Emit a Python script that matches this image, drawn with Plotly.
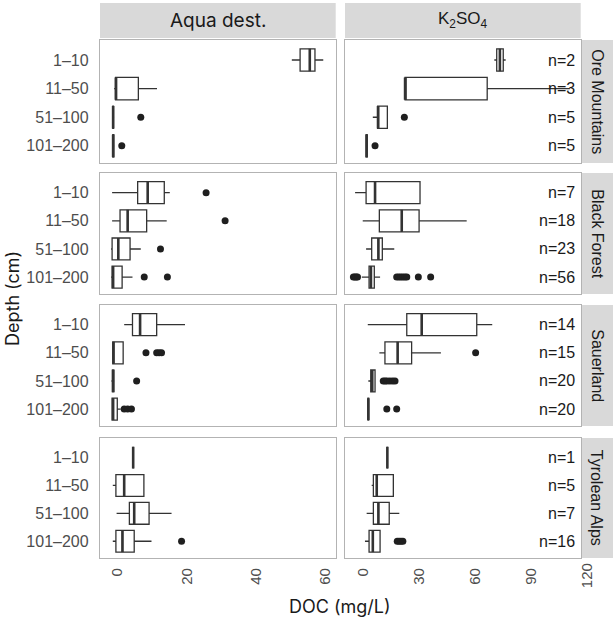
import plotly.graph_objects as go

# ---------------- data ----------------
sites = ["Ore Mountains", "Black Forest", "Sauerland", "Tyrolean Alps"]
depths = ["1–10", "11–50", "51–100", "101–200"]
extractants = ["Aqua dest.", "K<sub>2</sub>SO<sub>4</sub>"]

# Aqua dest. statistics (rows: sites, cols: depths)
aqua_lo = [[50.4, -1.0, -1.5, -1.5], [-1.6, -1.6, -1.9, -1.9], [1.9, -1.6, -1.8, -1.6], [4.5, -1.4, -0.3, -1.4]]
aqua_q1 = [[52.8, -0.6, -1.4, -1.4], [5.8, 0.7, -1.6, -1.6], [4.3, -1.4, -1.5, -1.6], [4.5, -0.5, 3.4, -0.5]]
aqua_med = [[55.6, -0.5, -1.3, -1.3], [8.7, 2.9, 0.2, -1.3], [6.5, -1.2, -1.3, -1.3], [4.5, 1.9, 4.8, 1.4]]
aqua_q3 = [[57.1, 6.0, -1.2, -1.1], [13.5, 8.4, 3.6, 1.3], [11.3, 1.6, -1.1, -0.1], [4.5, 7.6, 9.1, 4.8]]
aqua_hi = [[59.5, 11.4, -1.0, -0.9], [15.1, 14.2, 6.7, 4.3], [19.5, 1.6, -0.9, 0.9], [4.5, 7.6, 15.6, 9.8]]
aqua_out = [
    [[], [], [6.7], [1.2]],
    [[25.6], [31.1], [12.4], [7.7, 14.4]],
    [[], [8.2, 11.3, 12.0, 12.7], [5.5], [1.9, 2.9, 4.0]],
    [[], [], [], [18.5]],
]

# K2SO4 statistics
k_lo = [[70.5, 22.7, 5.4, 1.6], [-4.1, 0.0, 1.8, -0.5], [2.7, 8.9, 3.0, 2.5], [13.2, 4.8, 2.1, 1.2]]
k_q1 = [[71.8, 22.7, 8.0, 1.8], [1.8, 8.9, 4.8, 3.4], [23.6, 11.9, 4.3, 2.8], [13.2, 5.7, 5.7, 3.4]]
k_med = [[73.5, 22.7, 8.2, 2.1], [6.6, 20.9, 8.4, 4.4], [31.6, 18.7, 5.1, 3.0], [13.2, 7.5, 8.4, 5.4]]
k_q3 = [[75.3, 66.7, 13.2, 2.4], [30.7, 30.2, 10.5, 6.2], [61.1, 26.2, 6.6, 3.2], [13.2, 16.4, 14.2, 9.3]]
k_hi = [[76.6, 111.0, 13.2, 2.6], [30.7, 55.7, 16.9, 9.3], [69.4, 41.9, 6.6, 3.5], [13.2, 16.4, 19.6, 9.3]]
k_out = [
    [[], [], [22.3], [6.6]],
    [[], [], [], [-5.0, -4.2, -3.5, -2.8, 18.2, 19.3, 20.4, 21.5, 22.6, 23.6, 29.8, 36.4]],
    [[], [60.5], [11.0, 12.0, 13.0, 14.5, 16.0, 17.3], [12.9, 18.2]],
    [[], [], [], [18.5, 19.5, 20.5, 21.5]],
]

n_counts = [[2, 3, 5, 5], [7, 18, 23, 56], [14, 15, 20, 20], [1, 5, 7, 16]]

x_ranges = [[-5.1, 63.1], [-9.5, 116.8]]
x_ticks = [[0, 20, 40, 60], [0, 30, 60, 90]]
extra_tick = 120

# ---------------- layout geometry (pixels) ----------------
W, H = 614, 624
col_px = [(100, 335.7), (345, 580.7)]
row_px = [(40, 163), (173, 294), (305, 426), (438, 558)]
strip_top = (3, 38)
strip_right = (581.5, 613)

def fx(px):
    return px / W

def fy(py):
    return 1 - py / H

BOX_W = 0.78
LINE_C = "#333333"
TICK_C = "#4d4d4d"
TXT_C = "#1a1a1a"
BORDER_C = "#b3b3b3"
STRIP_C = "#d9d9d9"
SANS = "Liberation Sans, Arial, sans-serif"

fig = go.Figure()
layout = dict(
    width=W, height=H, margin=dict(l=0, r=0, t=0, b=0),
    paper_bgcolor="white", plot_bgcolor="white", showlegend=False,
    font=dict(family=SANS, color=TXT_C),
)
annotations = []
shapes = []

stats = [
    (aqua_lo, aqua_q1, aqua_med, aqua_q3, aqua_hi, aqua_out),
    (k_lo, k_q1, k_med, k_q3, k_hi, k_out),
]
pos = list(range(len(depths)))

for r, site in enumerate(sites):
    for c in range(2):
        k = r * 2 + c
        sfx = "" if k == 0 else str(k + 1)
        xa, ya = "x" + sfx, "y" + sfx
        lo, q1, med, q3, hi, out = stats[c]
        fig.add_trace(go.Box(
            y=pos, q1=q1[r], median=med[r], q3=q3[r],
            lowerfence=lo[r], upperfence=hi[r],
            orientation="h", width=BOX_W, whiskerwidth=0,
            fillcolor="white", line=dict(color=LINE_C, width=1.3),
            boxpoints=False, hoverinfo="skip", xaxis=xa, yaxis=ya,
        ))
        # thick median segments
        mx, my = [], []
        for i, m in enumerate(med[r]):
            mx += [m, m, None]
            my += [i - BOX_W / 2, i + BOX_W / 2, None]
        fig.add_trace(go.Scatter(x=mx, y=my, mode="lines",
                                 line=dict(color=LINE_C, width=2.6),
                                 hoverinfo="skip", xaxis=xa, yaxis=ya))
        # outliers
        ox, oy = [], []
        for i, vals in enumerate(out[r]):
            ox += vals
            oy += [i] * len(vals)
        if ox:
            fig.add_trace(go.Scatter(x=ox, y=oy, mode="markers",
                                     marker=dict(color="#1f1f1f", size=7),
                                     hoverinfo="skip", xaxis=xa, yaxis=ya))
        bottom = r == len(sites) - 1
        layout["xaxis" + sfx] = dict(
            domain=[fx(col_px[c][0]), fx(col_px[c][1])], anchor=ya,
            range=x_ranges[c], tickvals=x_ticks[c],
            showticklabels=bottom, tickangle=-90, ticks="",
            ticklabelstandoff=3,
            tickfont=dict(size=15, color=TICK_C),
            showgrid=False, zeroline=False,
            showline=True, mirror=True, linecolor=BORDER_C, linewidth=1.3,
        )
        layout["yaxis" + sfx] = dict(
            domain=[fy(row_px[r][1]), fy(row_px[r][0])], anchor=xa,
            range=[3.6, -0.7], tickvals=pos, ticktext=depths,
            showticklabels=(c == 0), ticks="", ticklabelstandoff=7,
            tickfont=dict(size=16, color=TICK_C),
            showgrid=False, zeroline=False,
            showline=True, mirror=True, linecolor=BORDER_C, linewidth=1.3,
        )
        if c == 1:
            for i, n in enumerate(n_counts[r]):
                annotations.append(dict(
                    x=0.983, xref=xa + " domain", y=i, yref=ya,
                    text=f"n={n}", showarrow=False, xanchor="right", yanchor="middle",
                    font=dict(size=16, color=TXT_C),
                ))
    # right strip
    shapes.append(dict(type="rect", xref="paper", yref="paper",
                       x0=fx(strip_right[0]), x1=fx(strip_right[1]),
                       y0=fy(row_px[r][1]), y1=fy(row_px[r][0]),
                       fillcolor=STRIP_C, line=dict(width=0), layer="below"))
    annotations.append(dict(
        x=fx((strip_right[0] + strip_right[1]) / 2), y=fy((row_px[r][0] + row_px[r][1]) / 2),
        xref="paper", yref="paper", text=site, textangle=90, showarrow=False,
        xanchor="center", yanchor="middle", font=dict(size=16, color=TXT_C),
    ))

# top strips
for c, ext in enumerate(extractants):
    shapes.append(dict(type="rect", xref="paper", yref="paper",
                       x0=fx(col_px[c][0]), x1=fx(col_px[c][1]),
                       y0=fy(strip_top[1]), y1=fy(strip_top[0]),
                       fillcolor=STRIP_C, line=dict(width=0), layer="below"))
    annotations.append(dict(
        x=fx((col_px[c][0] + col_px[c][1]) / 2), y=fy((strip_top[0] + strip_top[1]) / 2),
        xref="paper", yref="paper", text=ext, showarrow=False,
        xanchor="center", yanchor="middle",
        font=dict(size=19 if c == 0 else 17,
                  family="Inter, sans-serif" if c == 0 else SANS,
                  color=TXT_C),
    ))

# extra "120" tick label on bottom-right axis (just past the panel edge, as in the reference)
r0, r1 = x_ranges[1]
frac = (extra_tick - r0) / (r1 - r0)
x_paper = fx(col_px[1][0]) + frac * (fx(col_px[1][1]) - fx(col_px[1][0]))
annotations.append(dict(
    x=x_paper, xref="paper", y=fy(row_px[3][1]), yref="paper",
    text=str(extra_tick), textangle=-90, showarrow=False,
    xanchor="center", yanchor="top", yshift=-3,
    font=dict(size=15, color=TICK_C),
))

# axis titles
annotations.append(dict(
    x=fx(12), y=fy((row_px[0][0] + row_px[3][1]) / 2), xref="paper", yref="paper",
    text="Depth (cm)", textangle=-90, showarrow=False,
    xanchor="center", yanchor="middle",
    font=dict(size=18, family="Inter, sans-serif", color=TXT_C),
))
annotations.append(dict(
    x=fx(340), y=fy(606), xref="paper", yref="paper",
    text="DOC (mg/L)", showarrow=False, xanchor="center", yanchor="middle",
    font=dict(size=18, family="Inter, sans-serif", color=TXT_C),
))

layout["annotations"] = annotations
layout["shapes"] = shapes
fig.update_layout(**layout)
fig.write_html("out.html")
